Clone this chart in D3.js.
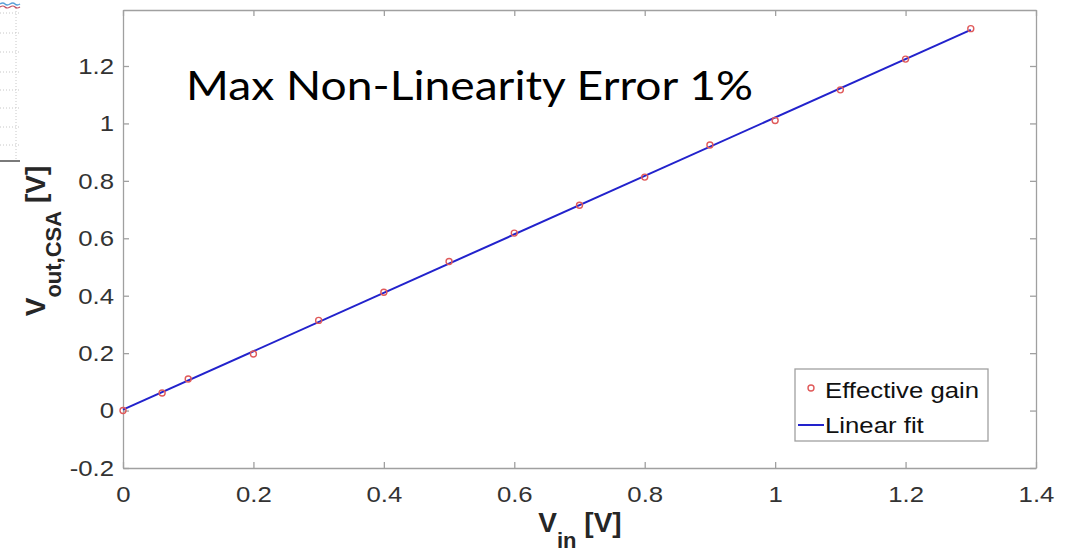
<!DOCTYPE html>
<html>
<head>
<meta charset="utf-8">
<script src="https://cdn.jsdelivr.net/npm/d3@7"></script>
<style>
  body { margin: 0; background: #fff; }
  svg { display: block; }
</style>
</head>
<body>
<svg id="chart" width="1066" height="552"></svg>
<script>
// measured input voltages and CSA outputs
var vin = [0, 0.06, 0.1, 0.2, 0.3, 0.4, 0.5, 0.6, 0.7, 0.8, 0.9, 1.0, 1.1, 1.2, 1.3];
var vout = [0, 0.061, 0.11, 0.197, 0.314, 0.412, 0.519, 0.618, 0.715, 0.813, 0.925, 1.01, 1.117, 1.224, 1.33];
// linear fit end points
var fitX = [0, 1.3];
var fitY = [0.003, 1.326];
var xTicks = [0, 0.2, 0.4, 0.6, 0.8, 1, 1.2, 1.4];
var yTicks = [-0.2, 0, 0.2, 0.4, 0.6, 0.8, 1, 1.2];
var legendLabels = ["Effective gain", "Linear fit"];
var note = "Max Non-Linearity Error 1%";

var svg = d3.select("#chart");
var m = {left: 123, right: 1036, top: 10, bottom: 468};

var x = d3.scaleLinear().domain([0, 1.4]).range([m.left, m.right]);
var y = d3.scaleLinear().domain([-0.2, 1.395]).range([m.bottom, m.top]);

var axisColor = "#a0a0a0";
var stretch = 1.12; // the source picture is a bit wider than tall
var fmt = function(d) { return String(+d.toFixed(1)); };
var sans = "Liberation Sans, Arial, Helvetica, sans-serif";

// leftover bit of another figure in the top left corner
var scrap = svg.append("g");
[13, 33, 52, 72, 90, 108, 127, 145].forEach(function(yy) {
  scrap.append("line").attr("x1", 0).attr("x2", 20).attr("y1", yy).attr("y2", yy)
    .attr("stroke", "#c8c8c8").attr("stroke-dasharray", "1,2");
});
scrap.append("line").attr("x1", 16).attr("x2", 16).attr("y1", 8).attr("y2", 160)
  .attr("stroke", "#c8c8c8").attr("stroke-dasharray", "1,2");
scrap.append("line").attr("x1", 0).attr("x2", 20).attr("y1", 161).attr("y2", 161)
  .attr("stroke", "#222").attr("stroke-width", 1.2);
scrap.append("path").attr("d", "M0,4 q3,-2 5,0 t5,0 t5,0 t5,0").attr("fill", "none").attr("stroke", "#5aa0d8").attr("stroke-width", 1.5);
scrap.append("path").attr("d", "M0,7 q3,-2 5,0 t5,0 t5,0 t5,0").attr("fill", "none").attr("stroke", "#c05060").attr("stroke-width", 1.2);

// axes, MATLAB style box with inward ticks
var xAxis = svg.append("g").attr("transform", "translate(0," + m.bottom + ")")
  .call(d3.axisBottom(x).tickValues(xTicks).tickSizeInner(-6).tickSizeOuter(0).tickFormat(fmt));
var yAxis = svg.append("g").attr("transform", "translate(" + m.left + ",0)")
  .call(d3.axisLeft(y).tickValues(yTicks).tickSizeInner(-6).tickSizeOuter(0).tickFormat(fmt));
svg.append("g").attr("transform", "translate(0," + m.top + ")")
  .call(d3.axisTop(x).tickValues(xTicks).tickSizeInner(-6).tickSizeOuter(0).tickFormat(""));
svg.append("g").attr("transform", "translate(" + m.right + ",0)")
  .call(d3.axisRight(y).tickValues(yTicks).tickSizeInner(-6).tickSizeOuter(0).tickFormat(""));
svg.selectAll(".domain, .tick line").attr("stroke", axisColor).attr("stroke-width", 1.3);
svg.selectAll(".tick text")
  .attr("font-family", sans)
  .attr("font-size", 23).attr("fill", "#333")
  .attr("transform", "scale(" + stretch + ",1)");
xAxis.selectAll(".tick text").attr("y", 34).attr("dy", null);
yAxis.selectAll(".tick text").attr("x", -9 / stretch);

// fit line
svg.append("path")
  .datum(d3.zip(fitX, fitY))
  .attr("d", d3.line().x(function(d) { return x(d[0]); }).y(function(d) { return y(d[1]); }))
  .attr("fill", "none").attr("stroke", "#2222cc").attr("stroke-width", 2);

// measured points
svg.selectAll("circle.pt")
  .data(d3.zip(vin, vout))
  .enter().append("circle")
  .attr("class", "pt")
  .attr("cx", function(d) { return x(d[0]); })
  .attr("cy", function(d) { return y(d[1]); })
  .attr("r", 3)
  .attr("fill", "none").attr("stroke", "#e05a5a").attr("stroke-width", 1.4);

// axis titles
var xt = svg.append("text").attr("x", 580).attr("y", 532).attr("text-anchor", "middle")
  .attr("font-family", sans).attr("font-weight", "bold").attr("fill", "#262626");
xt.append("tspan").attr("font-size", 28).text("V");
xt.append("tspan").attr("font-size", 22).attr("dy", 16).text("in");
xt.append("tspan").attr("font-size", 28).attr("dy", -16).text(" [V]");

var yt = svg.append("text").attr("transform", "translate(45,241) rotate(-90)")
  .attr("text-anchor", "middle")
  .attr("font-family", sans).attr("font-weight", "bold").attr("fill", "#262626");
yt.append("tspan").attr("font-size", 28).text("V");
yt.append("tspan").attr("font-size", 22).attr("dy", 16).text("out,CSA");
yt.append("tspan").attr("font-size", 28).attr("dy", -16).text(" [V]");

// annotation
svg.append("text").attr("transform", "translate(186,100) scale(1.127,1)")
  .attr("font-family", "Lato, 'Open Sans', sans-serif").attr("font-size", 41).attr("fill", "#000")
  .text(note);

// legend
var lg = svg.append("g").attr("transform", "translate(795,369)");
lg.append("rect").attr("width", 193).attr("height", 72).attr("fill", "#fff").attr("stroke", axisColor).attr("stroke-width", 1.3);
lg.append("circle").attr("cx", 16).attr("cy", 19).attr("r", 3).attr("fill", "none").attr("stroke", "#e05a5a").attr("stroke-width", 1.4);
lg.append("line").attr("x1", 3).attr("x2", 29).attr("y1", 56).attr("y2", 56).attr("stroke", "#2222cc").attr("stroke-width", 2);
lg.selectAll("text.lt").data(legendLabels).enter().append("text")
  .attr("class", "lt")
  .attr("transform", function(d, i) { return "translate(30," + (29 + i * 35) + ") scale(" + stretch + ",1)"; })
  .attr("font-family", sans).attr("font-size", 23).attr("fill", "#111")
  .text(function(d) { return d; });
</script>
</body>
</html>
